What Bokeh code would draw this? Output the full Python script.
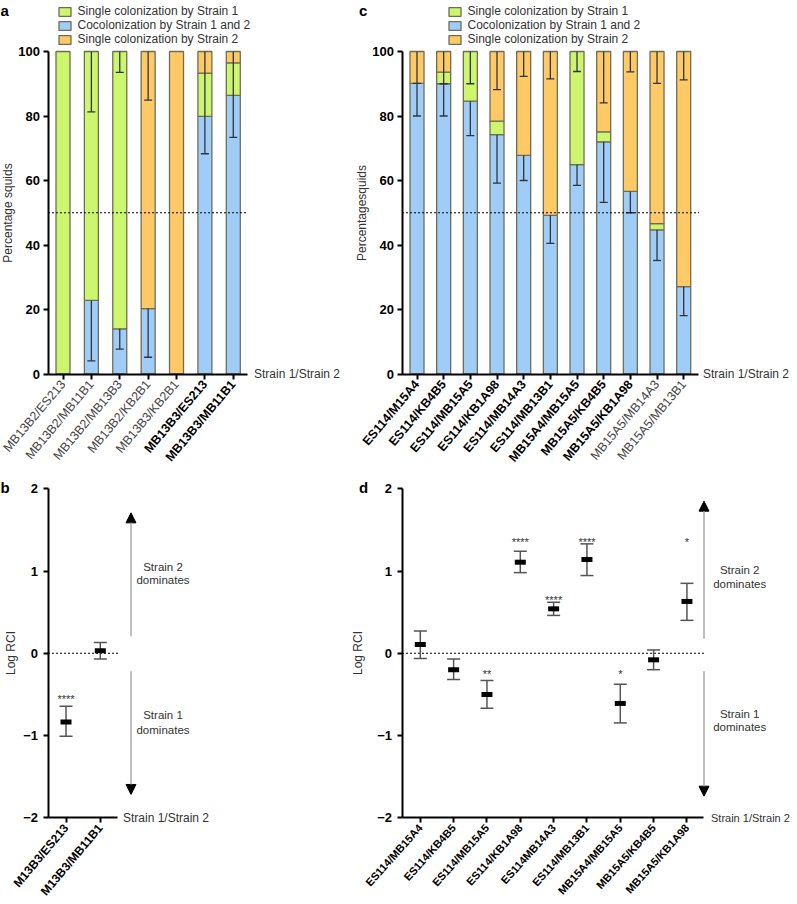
import math
import numpy as np
from bokeh.plotting import figure
from bokeh.models import (ColumnDataSource, FixedTicker, LinearAxis, Range1d,
                          Legend, LegendItem, Arrow, NormalHead)
from bokeh.layouts import row, column
from bokeh.embed import file_html
from bokeh.resources import INLINE
from bokeh.core.properties import value

nan = float("nan")

# ---------------- data ----------------
legend_labels = ["Single colonization by Strain 1",
                 "Cocolonization by Strain 1 and 2",
                 "Single colonization by Strain 2"]
percent_ticks = [0, 20, 40, 60, 80, 100]
rci_ticks = [-2, -1, 0, 1, 2]

# panel a (percentage of squids)
pairs_a = ["MB13B2/ES213", "MB13B2/MB11B1", "MB13B2/MB13B3", "MB13B2/KB2B1",
           "MB13B3/KB2B1", "MB13B3/ES213", "MB13B3/MB11B1"]
cocol_a = [0.0, 22.8, 14.0, 20.3, 0.0, 79.9, 86.4]
single1_a = [100.0, 77.2, 86.0, 0.0, 0.0, 13.4, 10.1]
single2_a = [0.0, 0.0, 0.0, 79.7, 100.0, 6.7, 3.5]
err_top_a = [nan, 81.3, 93.5, 84.9, nan, 68.3, 73.4]
err_cocol_a = [nan, 4.1, 7.7, 5.2, nan, nan, nan]

# panel c (percentage of squids)
pairs_c = ["ES114/M15A4", "ES114/KB4B5", "ES114/MB15A5", "ES114/KB1A98",
           "ES114/MB14A3", "ES114/MB13B1", "MB15A4/MB15A5", "MB15A5/KB4B5",
           "MB15A5/KB1A98", "MB15A5/MB14A3", "MB15A5/MB13B1"]
cocol_c = [90.1, 90.0, 84.6, 74.2, 67.8, 49.2, 64.9, 72.0, 56.6, 44.7, 27.1]
single1_c = [0.0, 3.6, 15.4, 4.2, 0.0, 0.0, 35.1, 3.1, 0.0, 1.9, 0.0]
single2_c = [9.9, 6.4, 0.0, 21.6, 32.2, 50.8, 0.0, 24.9, 43.4, 53.4, 72.9]
err_top_c = [90.1, 90.0, 90.0, 88.2, 92.3, 91.5, 93.8, 84.1, 93.7, 90.1, 91.2]
err_cocol_c = [80.0, 80.0, 73.9, 59.2, 60.0, 40.5, 58.5, 53.2, 50.0, 35.2, 18.1]

# panel b (log RCI)
pairs_b = ["M13B3/ES213", "M13B3/MB11B1"]
log_rci_b = [-0.835, 0.03]
rci_upper_b = [-0.645, 0.13]
rci_lower_b = [-1.01, -0.07]
signif_b = ["****", ""]
signif_y_b = [-0.48, nan]

# panel d (log RCI)
pairs_d = ["ES114/MB15A4", "ES114/KB4B5", "ES114/MB15A5", "ES114/KB1A98",
           "ES114MB14A3", "ES114/MB13B1", "MB15A4/MB15A5", "MB15A5/KB4B5",
           "MB15A5/KB1A98"]
log_rci_d = [0.106, -0.20, -0.50, 1.107, 0.54, 1.14, -0.61, -0.08, 0.63]
rci_upper_d = [0.27, -0.07, -0.33, 1.24, 0.62, 1.33, -0.377, 0.04, 0.85]
rci_lower_d = [-0.065, -0.32, -0.67, 0.98, 0.46, 0.945, -0.847, -0.20, 0.40]
signif_d = ["", "", "**", "****", "****", "****", "*", "", "*"]
signif_y_d = [nan, nan, -0.18, 1.42, 0.72, 1.42, -0.18, nan, 1.42]

# ---------------- style ----------------
FONT = "Liberation Sans"
GREEN, BLUE, ORANGE = "#CDF56E", "#A0CDF8", "#FFC966"
EDGE = "#6E6E58"
ERR = "#2E3540"
ERR_GRAY = "#555555"
TXT = "#333333"
ARROW_GRAY = "#AAAAAA"

# page geometry (where the canvas lands in the window)
X0, XM, XR = 3.5, 349.5, 793.5
Y0, YM, YB = 1, 474, 903


def make_panel(left, right, top, bottom, x1_px, step_px, y0_px, unit_px):
    def fx(px):
        return 1 + (px - x1_px) / step_px

    def fy(py):
        return (y0_px - py) / unit_px

    p = figure(width=int(round(right - left)), height=int(round(bottom - top)),
               x_range=Range1d(fx(left), fx(right)),
               y_range=Range1d(fy(bottom), fy(top)),
               output_backend="svg", toolbar_location=None, tools="",
               min_border=0, outline_line_color=None)
    p.xgrid.visible = False
    p.ygrid.visible = False
    return p, fx, fy


def style_axis(ax):
    ax.axis_line_width = 2
    ax.axis_line_color = "black"
    ax.major_tick_line_width = 2
    ax.major_tick_line_color = "black"
    ax.major_tick_in = 0
    ax.major_tick_out = 5
    ax.minor_tick_line_color = None
    ax.major_label_text_font = FONT
    ax.major_label_text_font_size = "13px"
    ax.axis_label_text_font = FONT


def setup_axes(p, fx, names, bold_idx, ax_start_px, ax_end_px, x_axis_at,
               ybounds, yticks, ylabel, ylab_standoff, ytick_standoff,
               xlab_size, xlab_angle_deg):
    ya = p.yaxis[0]
    style_axis(ya)
    ya.ticker = FixedTicker(ticks=yticks)
    ya.bounds = ybounds
    ya.fixed_location = fx(ax_start_px)
    ya.major_label_text_font_style = "bold"
    ya.major_label_text_color = "black"
    ya.major_label_standoff = ytick_standoff
    ya.axis_label = ylabel
    ya.axis_label_text_font_style = "normal"
    ya.axis_label_text_font_size = "12px"
    ya.axis_label_text_color = TXT
    ya.axis_label_standoff = ylab_standoff

    idx = list(range(1, len(names) + 1))
    groups = []
    normal = [i for i in idx if i not in bold_idx]
    bold = [i for i in idx if i in bold_idx]
    if normal:
        groups.append((normal, "normal", "#444444"))
    if bold:
        groups.append((bold, "bold", "black"))
    for k, (ticks, fstyle, col) in enumerate(groups):
        if k == 0:
            ax = p.xaxis[0]
        else:
            ax = LinearAxis()
            p.add_layout(ax, "below")
        style_axis(ax)
        if k > 0:
            ax.axis_line_color = None
        ax.ticker = FixedTicker(ticks=ticks)
        ax.major_label_overrides = {i: names[i - 1] for i in ticks}
        ax.major_label_orientation = math.radians(xlab_angle_deg)
        ax.major_label_text_font_style = fstyle
        ax.major_label_text_font_size = xlab_size
        ax.major_label_text_color = col
        ax.major_label_standoff = 3
        ax.fixed_location = x_axis_at
        ax.bounds = (fx(ax_start_px), fx(ax_end_px))


def stacked_bars(p, cocol, s1, s2, width):
    x = np.arange(1, len(cocol) + 1, dtype=float)
    c, g, o = np.array(cocol), np.array(s1), np.array(s2)
    segs = [(np.zeros_like(c), c, BLUE), (c, c + g, GREEN), (c + g, c + g + o, ORANGE)]
    rs = []
    for b, t, col in segs:
        m = t > b
        src = ColumnDataSource(dict(x=x[m], bottom=b[m], top=t[m]))
        rs.append(p.vbar(x="x", bottom="bottom", top="top", width=width, source=src,
                         fill_color=col, line_color=EDGE, line_width=1.3))
    return rs


def pct_errors(p, cocol, s1, s2, err_top, err_cocol):
    x = np.arange(1, len(cocol) + 1, dtype=float)
    c = np.array(cocol)
    total = c + np.array(s1) + np.array(s2)
    for base, lo in ((total, np.array(err_top)), (c, np.array(err_cocol))):
        m = ~np.isnan(lo)
        p.segment(x0=x[m], y0=base[m], x1=x[m], y1=lo[m], line_color=ERR, line_width=1.3)
        p.scatter(x=x[m], y=lo[m], marker="dash", size=8, line_color=ERR, line_width=1.3)


def add_legend(p, rs, vx, vy):
    blue, green, orange = rs
    items = [LegendItem(label=legend_labels[0], renderers=[green]),
             LegendItem(label=legend_labels[1], renderers=[blue]),
             LegendItem(label=legend_labels[2], renderers=[orange])]
    lg = Legend(items=items, location=(vx, vy), label_text_font=FONT,
                label_text_font_size="12px", label_text_color=TXT,
                glyph_width=15, glyph_height=11, label_standoff=6, label_height=12,
                spacing=0, padding=0, margin=0, border_line_color=None,
                background_fill_alpha=0)
    p.add_layout(lg)


def rci_points(p, vals, up, lo, stars, star_y, unit_px):
    x = np.arange(1, len(vals) + 1, dtype=float)
    p.segment(x0=x, y0=lo, x1=x, y1=up, line_color=ERR_GRAY, line_width=1.5)
    p.scatter(x=x, y=up, marker="dash", size=13, line_color=ERR_GRAY, line_width=1.5)
    p.scatter(x=x, y=lo, marker="dash", size=13, line_color=ERR_GRAY, line_width=1.5)
    p.rect(x=x, y=vals, width=11, height=5, width_units="screen", height_units="screen",
           fill_color="black", line_color=None)
    sy = np.array(star_y)
    m = ~np.isnan(sy)
    txt = [s for s, k in zip(stars, m) if k]
    p.text(x=x[m], y=sy[m] - 6.0 / unit_px, text=txt, text_font=value(FONT),
           text_font_size="11px", text_color=TXT, text_align="center",
           text_baseline="alphabetic")


def note(p, x, y, s, size="12px", align="center", color=TXT, style="normal",
         baseline="middle"):
    p.text(x=[x], y=[y], text=[s], text_font=value(FONT), text_font_size=size,
           text_color=color, text_align=align, text_baseline=baseline,
           text_font_style=style)


def dominance(p, fx, fy, ax_px, up_from, up_to, dn_from, dn_to, tx_px, lines):
    for y0, y1 in ((up_from, up_to), (dn_from, dn_to)):
        p.add_layout(Arrow(x_start=fx(ax_px), y_start=y0, x_end=fx(ax_px), y_end=y1,
                           line_color=ARROW_GRAY, line_width=1.5,
                           end=NormalHead(size=10, fill_color="black", line_color="black")))
    for s, py in lines:
        note(p, fx(tx_px), fy(py), s, size="11.5px")


# ---------------- panel a ----------------
pa, fxa, fya = make_panel(X0, XM, Y0, YM, 66, 28.38, 374.5, 3.225)
rs_a = stacked_bars(pa, cocol_a, single1_a, single2_a, 14 / 28.38)
pct_errors(pa, cocol_a, single1_a, single2_a, err_top_a, err_cocol_a)
pa.segment(x0=[fxa(51)], y0=[50], x1=[fxa(250)], y1=[50], line_color="black",
           line_width=1, line_dash="2 2")
setup_axes(pa, fxa, pairs_a, [6, 7], 51, 250, 0, (0, 100), percent_ticks,
           "Percentage squids", 1, 3, "12.5px", 50)
note(pa, fxa(257), 0, "Strain 1/Strain 2", align="left")
note(pa, fxa(X0), fya(11), "a", size="15px", align="left", color="black",
     style="bold", baseline="alphabetic")
add_legend(pa, rs_a, 60 - X0, (YM - Y0) - 5.5 - 40.5)

# ---------------- panel c ----------------
pc, fxc, fyc = make_panel(XM, XR, Y0, YM, 420, 26.67, 374.5, 3.225)
rs_c = stacked_bars(pc, cocol_c, single1_c, single2_c, 14 / 26.67)
pct_errors(pc, cocol_c, single1_c, single2_c, err_top_c, err_cocol_c)
pc.segment(x0=[fxc(405)], y0=[50], x1=[fxc(702)], y1=[50], line_color="black",
           line_width=1, line_dash="2 2")
setup_axes(pc, fxc, pairs_c, list(range(1, 10)), 405, 701, 0, (0, 100),
           percent_ticks, "Percentagesquids", 1, 3, "12.5px", 50)
note(pc, fxc(706), 0, "Strain 1/Strain 2", align="left")
note(pc, fxc(362), fyc(11), "c", size="15px", align="left", color="black",
     style="bold", baseline="alphabetic")
add_legend(pc, rs_c, 450 - XM, (YM - Y0) - 5.5 - 40.5)

# ---------------- panel b ----------------
pb, fxb, fyb = make_panel(X0, XM, YM, YB, 69, 34.3, 653.75, 82.25)
pb.segment(x0=[fxb(51)], y0=[0], x1=[fxb(122)], y1=[0], line_color="black",
           line_width=1, line_dash="2 2")
rci_points(pb, log_rci_b, rci_upper_b, rci_lower_b, signif_b, signif_y_b, 82.25)
setup_axes(pb, fxb, pairs_b, [1, 2], 51, 120, -2, (-2, 2), rci_ticks,
           "Log RCI", 3, 5, "12px", 50)
note(pb, fxb(126), -2, "Strain 1/Strain 2", align="left")
dominance(pb, fxb, fyb, 134, 0.207, 1.707, -0.218, -1.717, 166,
          [("Strain 2", 567), ("dominates", 580), ("Strain 1", 715), ("dominates", 730)])
note(pb, fxb(X0), fyb(488), "b", size="15px", align="left", color="black",
     style="bold", baseline="alphabetic")

# ---------------- panel d ----------------
pd_, fxd, fyd = make_panel(XM, XR, YM, YB, 423.3, 33.33, 653.75, 82.25)
pd_.segment(x0=[fxd(405)], y0=[0], x1=[fxd(708)], y1=[0], line_color="black",
            line_width=1, line_dash="2 2")
rci_points(pd_, log_rci_d, rci_upper_d, rci_lower_d, signif_d, signif_y_d, 82.25)
setup_axes(pd_, fxd, pairs_d, list(range(1, 10)), 405, 706, -2, (-2, 2), rci_ticks,
           "Log RCI", 10, 5, "11px", 48)
note(pd_, fxd(714), -2, "Strain 1/Strain 2", size="11px", align="left")
dominance(pd_, fxd, fyd, 707, 0.176, 1.849, -0.218, -1.738, 742.7,
          [("Strain 2", 570.7), ("dominates", 584.3), ("Strain 1", 714), ("dominates", 727)])
note(pd_, fxd(362), fyd(488), "d", size="15px", align="left", color="black",
     style="bold", baseline="alphabetic")

layout = column(row(pa, pc), row(pb, pd_))
open("out.html", "w").write(file_html(layout, INLINE))
